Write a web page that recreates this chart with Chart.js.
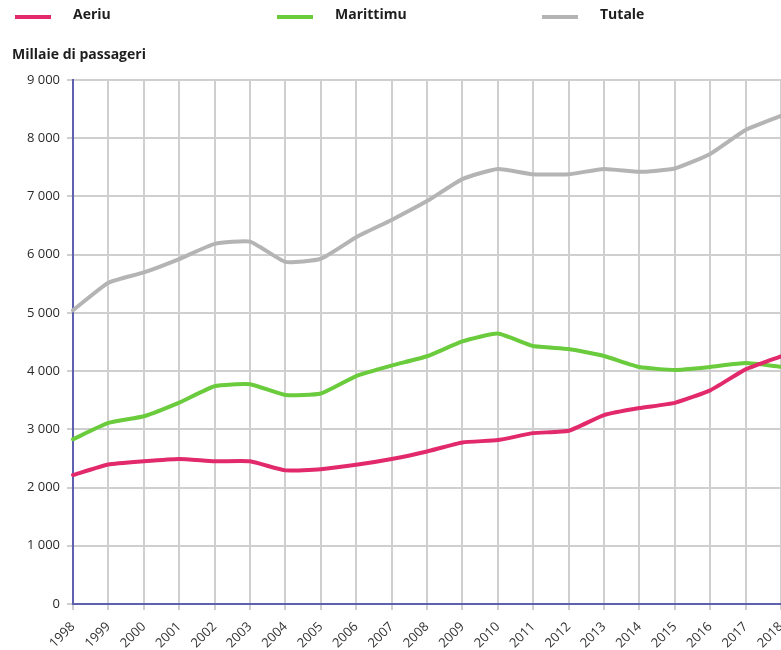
<!DOCTYPE html>
<html>
<head>
<meta charset="utf-8">
<script src="https://cdn.jsdelivr.net/npm/chart.js@4.4.1/dist/chart.umd.min.js"></script>
<style>
html,body{margin:0;padding:0;background:#fff;}
#wrap{position:relative;width:781px;height:650px;}
</style>
</head>
<body>
<div id="wrap"><canvas id="c" width="781" height="650"></canvas></div>
<script>
const years = ['1998','1999','2000','2001','2002','2003','2004','2005','2006','2007','2008','2009','2010','2011','2012','2013','2014','2015','2016','2017','2018'];
const aeriu = [2215, 2395, 2450, 2490, 2450, 2450, 2295, 2315, 2390, 2490, 2620, 2775, 2815, 2935, 2975, 3245, 3365, 3455, 3670, 4030, 4255];
const marittimu = [2830, 3110, 3225, 3460, 3740, 3775, 3590, 3615, 3915, 4095, 4255, 4510, 4645, 4430, 4380, 4260, 4070, 4020, 4072, 4138, 4075];
const tutale = [5045, 5518, 5695, 5925, 6185, 6225, 5876, 5930, 6300, 6597, 6920, 7298, 7473, 7380, 7380, 7473, 7422, 7480, 7731, 8143, 8384];
const seriesNames = ['Aeriu', 'Marittimu', 'Tutale'];
const axisTitle = 'Millaie di passageri';

const colors = ['#e2296b', '#6acb3c', '#b4b4b4'];

const headerPlugin = {
  id: 'header',
  afterDraw(chart) {
    const ctx = chart.ctx;
    ctx.save();
    const swatchX = [15, 277, 542];
    ctx.font = 'bold 14px "Open Sans", sans-serif';
    ctx.textBaseline = 'middle';
    ctx.textAlign = 'left';
    chart.data.datasets.forEach((ds, i) => {
      ctx.strokeStyle = ds.borderColor;
      ctx.lineWidth = 4;
      ctx.lineCap = 'butt';
      ctx.beginPath();
      ctx.moveTo(swatchX[i], 17);
      ctx.lineTo(swatchX[i] + 36, 17);
      ctx.stroke();
      ctx.fillStyle = '#1e1e1e';
      ctx.fillText(ds.label, swatchX[i] + 58, 15);
    });
    ctx.fillStyle = '#1e1e1e';
    ctx.fillText(axisTitle, 12, 55);
    ctx.restore();
  }
};

const fmt = v => String(v).replace(/\B(?=(\d{3})+(?!\d))/g, ' ');

new Chart(document.getElementById('c'), {
  type: 'line',
  data: {
    labels: years,
    datasets: [
      { label: seriesNames[0], data: aeriu, borderColor: colors[0], backgroundColor: colors[0] },
      { label: seriesNames[1], data: marittimu, borderColor: colors[1], backgroundColor: colors[1] },
      { label: seriesNames[2], data: tutale, borderColor: colors[2], backgroundColor: colors[2] }
    ]
  },
  options: {
    responsive: false,
    animation: false,
    devicePixelRatio: 1,
    layout: { padding: { top: 80, left: 0, right: 0, bottom: 0 } },
    elements: {
      point: { radius: 0 },
      line: { borderWidth: 4, tension: 0.15, borderCapStyle: 'round', borderJoinStyle: 'round' }
    },
    plugins: { legend: { display: false }, tooltip: { enabled: false } },
    scales: {
      x: {
        offset: false,
        grid: { color: '#cfcfcf', lineWidth: 2, tickLength: 6, drawTicks: true },
        border: { color: '#5e60b0', width: 2 },
        ticks: {
          autoSkip: false, minRotation: 45, maxRotation: 45, padding: 9,
          color: '#333', font: { family: '"Open Sans", sans-serif', size: 13 }
        },
        afterFit(s) { s.height = 46; s.paddingRight = 0; s.paddingLeft = 0; }
      },
      y: {
        min: 0, max: 9000,
        grid: { color: '#cfcfcf', lineWidth: 2, tickLength: 6 },
        border: { color: '#5e60b0', width: 2 },
        ticks: {
          stepSize: 1000, padding: 7, color: '#2a2a2a',
          font: { family: '"Open Sans", sans-serif', size: 13 },
          callback: v => fmt(v)
        },
        afterFit(s) { s.width = 73; s.paddingTop = 0; s.paddingBottom = 0; }
      }
    }
  },
  plugins: [headerPlugin]
});
</script>
</body>
</html>
